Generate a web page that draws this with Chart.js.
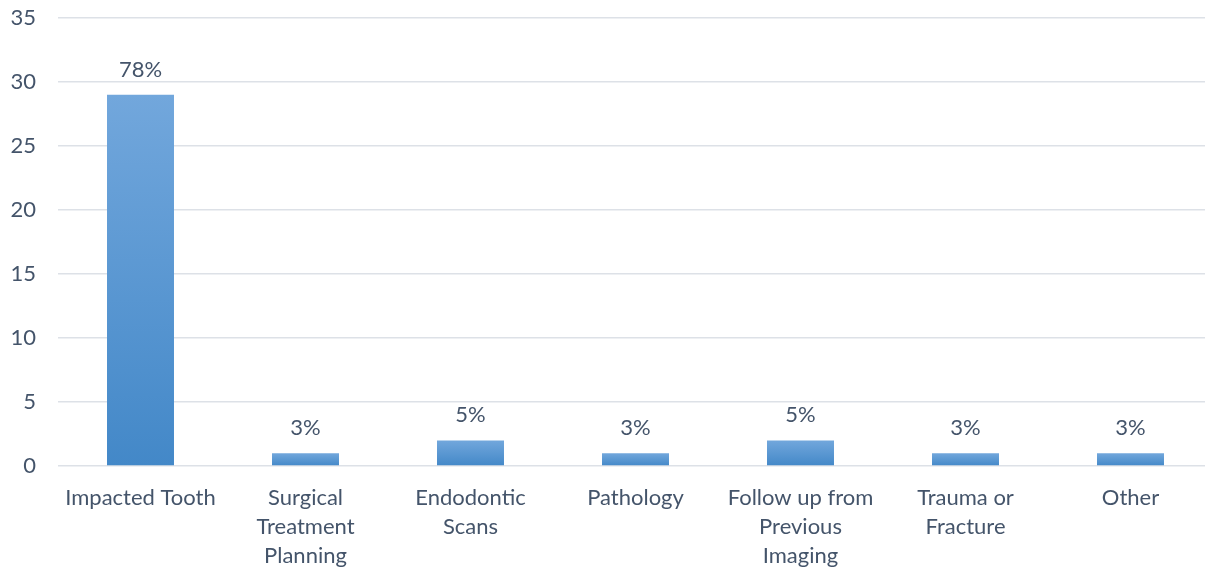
<!DOCTYPE html>
<html>
<head>
<meta charset="utf-8">
<script src="https://cdn.jsdelivr.net/npm/chart.js@4/dist/chart.umd.min.js"></script>
<style>
html,body{margin:0;padding:0;background:#fff;overflow:hidden;}
#wrap{width:1213px;height:569px;position:relative;}
</style>
</head>
<body>
<div id="wrap"><canvas id="c"></canvas></div>
<script>
const categories = [
  "Impacted Tooth",
  ["Surgical", "Treatment", "Planning"],
  ["Endodontic", "Scans"],
  "Pathology",
  ["Follow up from", "Previous", "Imaging"],
  ["Trauma or", "Fracture"],
  "Other"
];
const counts = [29, 1, 2, 1, 2, 1, 1];
const percentLabels = ["78%", "3%", "5%", "3%", "5%", "3%", "3%"];
const yTicks = [0, 5, 10, 15, 20, 25, 30, 35];

const textColor = "#44546A";
const fontFamily = "Lato, 'Open Sans', sans-serif";
const fontSize = 22;

function barGradient(context) {
  const chart = context.chart;
  if (!chart.chartArea || !chart.scales.y) return "#5A98D4";
  const yScale = chart.scales.y;
  const top = yScale.getPixelForValue(context.raw);
  const base = yScale.getPixelForValue(0);
  if (!isFinite(top) || !isFinite(base) || top === base) return "#5A98D4";
  const g = chart.ctx.createLinearGradient(0, top, 0, base);
  g.addColorStop(0, "#72A7DC");
  g.addColorStop(1, "#4388C8");
  return g;
}

const labelPlugin = {
  id: "pctLabels",
  afterDatasetsDraw(chart) {
    const ctx = chart.ctx;
    ctx.save();
    ctx.font = fontSize + "px " + fontFamily;
    ctx.fillStyle = textColor;
    ctx.textAlign = "center";
    ctx.textBaseline = "middle";
    chart.getDatasetMeta(0).data.forEach((el, i) => {
      ctx.fillText(percentLabels[i], el.x, el.y - 25);
    });
    ctx.restore();
  }
};

new Chart(document.getElementById("c"), {
  type: "bar",
  data: {
    labels: categories,
    datasets: [{
      data: counts,
      backgroundColor: barGradient,
      borderWidth: 0,
      categoryPercentage: 1.0,
      barPercentage: 0.406
    }]
  },
  options: {
    responsive: true,
    maintainAspectRatio: false,
    animation: false,
    devicePixelRatio: 1,
    layout: { padding: { top: 18, right: 0, left: 0, bottom: 0 } },
    plugins: { legend: { display: false }, tooltip: { enabled: false } },
    scales: {
      x: {
        grid: { display: false },
        border: { display: false },
        ticks: {
          color: textColor,
          font: { family: fontFamily, size: fontSize, lineHeight: 1.33 },
          maxRotation: 0,
          autoSkip: false,
          padding: 9
        },
        afterFit(scale) { scale.height = 103; scale.paddingLeft = 0; scale.paddingRight = 0; }
      },
      y: {
        min: 0,
        max: 35,
        afterBuildTicks(scale) { scale.ticks = yTicks.map(v => ({ value: v })); },
        grid: { color: "#DDE1E7", lineWidth: 1.5, drawTicks: false },
        border: { display: false },
        ticks: {
          color: textColor,
          font: { family: fontFamily, size: fontSize },
          padding: 22
        },
        afterFit(scale) { scale.width = 58; scale.paddingTop = 0; scale.paddingBottom = 0; }
      }
    }
  },
  plugins: [labelPlugin]
});
</script>
</body>
</html>
